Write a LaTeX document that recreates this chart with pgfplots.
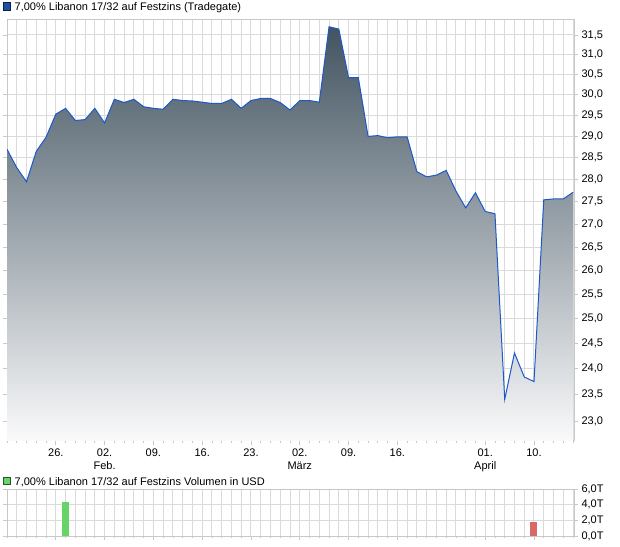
\documentclass[border=0pt]{standalone}
\usepackage{fontspec}
\setmainfont{Liberation Sans}
\usepackage{pgfplots}
\pgfplotsset{compat=1.18}
\usepackage{pgfplotstable}

\definecolor{lineblue}{RGB}{30,88,200}
\definecolor{gridc}{RGB}{218,218,218}
\definecolor{framec}{RGB}{200,200,200}
\definecolor{topc}{RGB}{66,84,97}
\definecolor{botc}{RGB}{250,250,251}
\definecolor{volgreen}{RGB}{102,212,102}
\definecolor{volred}{RGB}{218,104,104}
\definecolor{legblue}{RGB}{30,80,170}
\definecolor{leggreen}{RGB}{102,212,102}

\pgfplotstableread{
i v
0 28.70
1 28.27
2 27.95
3 28.65
4 28.98
5 29.53
6 29.67
7 29.38
8 29.40
9 29.67
10 29.32
11 29.89
12 29.81
13 29.89
14 29.71
15 29.67
16 29.65
17 29.89
18 29.86
19 29.85
20 29.82
21 29.79
22 29.79
23 29.89
24 29.67
25 29.86
26 29.91
27 29.91
28 29.81
29 29.63
30 29.86
31 29.86
32 29.82
33 31.71
34 31.65
35 30.42
36 30.42
37 29.00
38 29.02
39 28.97
40 28.99
41 28.99
42 28.18
43 28.06
44 28.10
45 28.21
46 27.74
47 27.36
48 27.70
49 27.28
50 27.23
51 23.41
52 24.31
53 23.84
54 23.75
55 27.54
56 27.56
57 27.56
58 27.71
}\price

\pgfplotstableread{
i vol
6 4.35
}\volup

\pgfplotstableread{
i vol
54 1.79
}\voldown

\pgfplotsset{
  chartstyle/.style={
    scale only axis,
    width=567pt,
    xmin=0, xmax=58.1,
    xtick={5,10,15,20,25,30,35,40,49,54},
    minor xtick={0,...,58},
    grid=both,
    grid style={gridc, line width=1pt},
    minor grid style={gridc, line width=1pt},
    axis line style={framec, line width=1pt},
    tick style={framec, line width=0.8pt},
    tick align=outside,
    major tick length=4pt,
    minor tick length=2pt,
    xtick pos=left,
    yticklabel pos=right,
    tick label style={font=\fontsize{11}{13}\selectfont, text=black},
  }
}

\begin{document}
\begin{tikzpicture}[font=\fontsize{11}{13}\selectfont]
\useasboundingbox (0pt,0pt) rectangle (620pt,-546pt);

% top legend
\draw[fill=legblue, draw=black!60!legblue, line width=0.6pt] (3pt,-2.5pt) rectangle (10.5pt,-10pt);
\node[anchor=base west, inner sep=0pt] at (14.5pt,-10pt) {7,00\% Libanon 17/32 auf Festzins (Tradegate)};

\begin{axis}[
  chartstyle,
  at={(7pt,-441pt)}, anchor=south west,
  height=421.5pt,
  ymode=log, ymin=22.63, ymax=31.9,
  ytick={23,23.5,24,24.5,25,25.5,26,26.5,27,27.5,28,28.5,29,29.5,30,30.5,31,31.5},
  yticklabels={{23,0},{23,5},{24,0},{24,5},{25,0},{25,5},{26,0},{26,5},{27,0},{27,5},{28,0},{28,5},{29,0},{29,5},{30,0},{30,5},{31,0},{31,5}},
  xticklabels={26.,{02.\\Feb.},09.,16.,23.,{02.\\März},09.,16.,{01.\\April},10.},
  xticklabel style={align=center},
]
\addplot[draw=none, top color=topc, bottom color=botc] table[x=i,y=v]{\price} |- (axis cs:0,22.63) -- cycle;
\addplot[lineblue, line width=1pt] table[x=i,y=v]{\price};
\end{axis}

% bottom legend
\draw[fill=leggreen, draw=black!60!leggreen, line width=0.6pt] (3pt,-477pt) rectangle (10.5pt,-484.5pt);
\node[anchor=base west, inner sep=0pt] at (14.5pt,-485pt) {7,00\% Libanon 17/32 auf Festzins Volumen in USD};

\begin{axis}[
  chartstyle,
  at={(7pt,-536pt)}, anchor=south west,
  height=47pt,
  ymin=0, ymax=6,
  ytick={0,2,4,6},
  yticklabels={{0,0T},{2,0T},{4,0T},{6,0T}},
  xticklabels={},
]
\addplot[ybar, bar width=7pt, bar shift=0pt, fill=volgreen, draw=none] table[x=i,y=vol]{\volup};
\addplot[ybar, bar width=7pt, bar shift=0pt, fill=volred, draw=none] table[x=i,y=vol]{\voldown};
\end{axis}
\end{tikzpicture}
\end{document}
